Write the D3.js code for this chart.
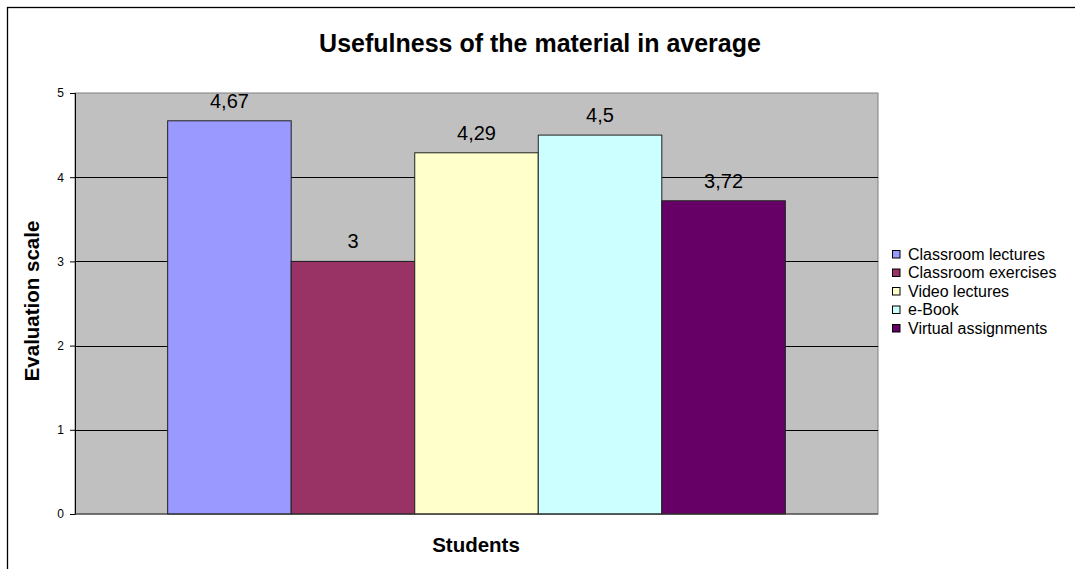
<!DOCTYPE html>
<html>
<head>
<meta charset="utf-8">
<script src="https://cdn.jsdelivr.net/npm/d3@7"></script>
<style>
  html, body { margin: 0; padding: 0; background: #ffffff; }
  svg { display: block; }
  text { font-family: Arial, "Liberation Sans", sans-serif; fill: #000; }
</style>
</head>
<body>
<svg id="chart" width="1075" height="569"></svg>
<script>
// Survey results: average usefulness rating per learning material
const categories = ["Students"];
const seriesNames = ["Classroom lectures", "Classroom exercises", "Video lectures", "e-Book", "Virtual assignments"];
const seriesValues = [4.67, 3, 4.29, 4.5, 3.72];
const seriesColors = ["#9999FF", "#993366", "#FFFFCC", "#CCFFFF", "#660066"];
const yTicks = [0, 1, 2, 3, 4, 5];

const svg = d3.select("#chart");
const W = 1075, H = 569;

// chart frame (extends past the visible window on the right and bottom)
svg.append("rect")
  .attr("x", 7.5).attr("y", 7.5)
  .attr("width", W + 20).attr("height", H + 20)
  .attr("fill", "#fff").attr("stroke", "#000").attr("stroke-width", 1.3);

const plot = { left: 75, right: 878, top: 93, bottom: 514 };

const y = d3.scaleLinear().domain([0, 5]).range([plot.bottom, plot.top]);

// one category, Excel-style gap of 150% of a bar width split on both sides
const x0 = d3.scaleBand().domain(categories)
  .range([plot.left, plot.right])
  .paddingInner(0).paddingOuter(0.15);
const x1 = d3.scaleBand().domain(seriesNames)
  .range([0, x0.bandwidth()]).padding(0);

// plot background
svg.append("rect")
  .attr("x", plot.left).attr("y", plot.top)
  .attr("width", plot.right - plot.left).attr("height", plot.bottom - plot.top)
  .attr("fill", "#C0C0C0").attr("stroke", "#808080").attr("stroke-width", 1);

// horizontal gridlines
svg.append("g")
  .selectAll("line")
  .data(yTicks.filter(t => t > 0 && t < 5))
  .join("line")
  .attr("x1", plot.left).attr("x2", plot.right)
  .attr("y1", d => Math.round(y(d)) + 0.5).attr("y2", d => Math.round(y(d)) + 0.5)
  .attr("stroke", "#000").attr("stroke-width", 1);

// bars
const fmt = v => String(v).replace(".", ",");
const group = svg.append("g")
  .attr("transform", `translate(${x0(categories[0])},0)`);

group.selectAll("rect")
  .data(seriesNames.map((n, i) => ({ name: n, value: seriesValues[i], color: seriesColors[i] })))
  .join("rect")
  .attr("x", d => x1(d.name))
  .attr("y", d => y(d.value))
  .attr("width", x1.bandwidth())
  .attr("height", d => y(0) - y(d.value))
  .attr("fill", d => d.color)
  .attr("stroke", "#222").attr("stroke-width", 1);

// value labels
group.selectAll("text.val")
  .data(seriesNames.map((n, i) => ({ name: n, value: seriesValues[i] })))
  .join("text")
  .attr("class", "val")
  .attr("x", d => x1(d.name) + x1.bandwidth() / 2)
  .attr("y", d => y(d.value) - 13)
  .attr("text-anchor", "middle")
  .style("font-size", "20px")
  .text(d => fmt(d.value));

// y axis
const yAxis = d3.axisLeft(y).tickValues(yTicks).tickSize(5).tickPadding(6).tickFormat(d3.format("d"));
const gy = svg.append("g")
  .attr("transform", `translate(${plot.left},0)`)
  .call(yAxis);
gy.select(".domain").attr("stroke", "#000");
gy.selectAll(".tick line").attr("stroke", "#000");
gy.selectAll(".tick text")
  .style("font-size", "12px")
  .style("font-family", "Arial, 'Liberation Sans', sans-serif");

// x axis baseline
svg.append("line")
  .attr("x1", plot.left).attr("x2", plot.right)
  .attr("y1", plot.bottom).attr("y2", plot.bottom)
  .attr("stroke", "#333").attr("stroke-width", 1.2);

// title
svg.append("text")
  .attr("x", 540).attr("y", 52)
  .attr("text-anchor", "middle")
  .style("font-size", "25px").style("font-weight", "bold")
  .text("Usefulness of the material in average");

// axis titles
svg.append("text")
  .attr("x", 476).attr("y", 552)
  .attr("text-anchor", "middle")
  .style("font-size", "20.5px").style("font-weight", "bold")
  .text("Students");

svg.append("text")
  .attr("transform", "translate(39,301) rotate(-90)")
  .attr("text-anchor", "middle")
  .style("font-size", "20.5px").style("font-weight", "bold")
  .text("Evaluation scale");

// legend
const legend = svg.append("g").attr("transform", "translate(892,254)");
const items = legend.selectAll("g")
  .data(seriesNames.map((n, i) => ({ name: n, color: seriesColors[i] })))
  .join("g")
  .attr("transform", (d, i) => `translate(0,${i * 18.5})`);
items.append("rect")
  .attr("x", 0.5).attr("y", -3.5)
  .attr("width", 7.5).attr("height", 7.5)
  .attr("fill", d => d.color)
  .attr("stroke", "#000").attr("stroke-width", 1);
items.append("text")
  .attr("x", 16).attr("y", 0)
  .attr("dy", "0.36em")
  .style("font-size", "16px")
  .text(d => d.name);
</script>
</body>
</html>
